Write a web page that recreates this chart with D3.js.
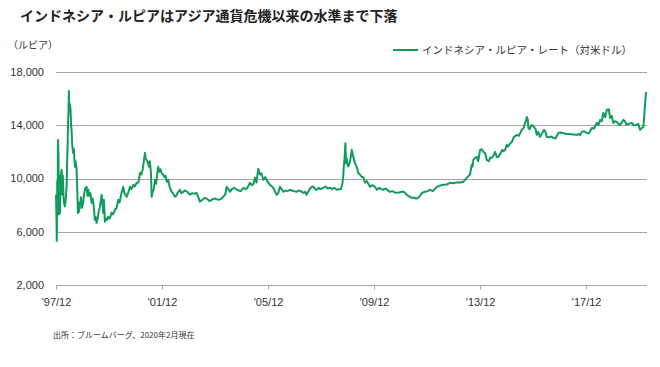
<!DOCTYPE html>
<html>
<head>
<meta charset="utf-8">
<script src="https://cdn.jsdelivr.net/npm/d3@7"></script>
<style>
  body { margin: 0; background: #fff; }
  #chart { width: 660px; height: 367px; }
  .jp { font-family: "Noto Sans CJK JP", "Noto Sans", sans-serif; fill: #222; }
  .num { font-family: "Liberation Sans", Arial, sans-serif; font-size: 11px; fill: #333; }
</style>
</head>
<body>
<div id="chart"></div>
<script>
// Title / labels
const titleText = "インドネシア・ルピアはアジア通貨危機以来の水準まで下落";
const unitText = "（ルピア）";
const legendText = "インドネシア・ルピア・レート（対米ドル）";
const sourceText = "出所：ブルームバーグ、2020年2月現在";

// Axis ticks
const yTicks = [2000, 6000, 10000, 14000, 18000];
const xTickDates = ["1997-12-01", "2001-12-01", "2005-12-01", "2009-12-01", "2013-12-01", "2017-12-01"];
const xTickLabels = ["'97/12", "'01/12", "'05/12", "'09/12", "'13/12", "'17/12"];
const xDomain = ["1997-12-01", "2020-03-19"];

// IDR per USD
const rupiah = [
  ["1997-12-01", 8800], ["1997-12-08", 6800], ["1997-12-12", 5300], ["1997-12-18", 9800],
  ["1997-12-24", 7600], ["1997-12-28", 12900], ["1998-01-04", 11800], ["1998-01-11", 7300],
  ["1998-01-18", 10200], ["1998-01-25", 7400], ["1998-02-02", 9800], ["1998-02-10", 10400],
  ["1998-02-18", 10650], ["1998-02-26", 8800], ["1998-03-05", 10200], ["1998-03-15", 8600],
  ["1998-03-25", 8100], ["1998-04-02", 7900], ["1998-04-12", 8300], ["1998-04-26", 9400],
  ["1998-05-05", 11500], ["1998-05-12", 12800], ["1998-05-17", 14400], ["1998-05-22", 14900],
  ["1998-05-27", 16575], ["1998-06-03", 15000], ["1998-06-10", 15600], ["1998-06-20", 15150],
  ["1998-06-27", 14000], ["1998-07-03", 13650], ["1998-07-12", 12600], ["1998-07-25", 11925],
  ["1998-08-05", 12200], ["1998-08-18", 10875], ["1998-08-28", 11300], ["1998-09-11", 10650],
  ["1998-09-22", 8800], ["1998-09-29", 7400], ["1998-10-08", 8200], ["1998-10-15", 7500],
  ["1998-10-26", 7900], ["1998-11-10", 8600], ["1998-11-25", 7800], ["1998-12-11", 8200],
  ["1998-12-25", 8900], ["1999-01-10", 9300], ["1999-01-27", 9375], ["1999-02-08", 8700],
  ["1999-02-19", 9150], ["1999-03-05", 8700], ["1999-03-20", 8900], ["1999-04-05", 8175],
  ["1999-04-20", 8500], ["1999-05-05", 7900], ["1999-05-20", 6900], ["1999-06-01", 7100],
  ["1999-06-13", 6675], ["1999-06-28", 7000], ["1999-07-12", 7500], ["1999-07-28", 7875],
  ["1999-08-10", 8300], ["1999-08-21", 8775], ["1999-09-01", 8200], ["1999-09-13", 7400],
  ["1999-09-22", 8400], ["1999-10-06", 6750], ["1999-10-20", 7000], ["1999-11-05", 6900],
  ["1999-11-21", 7125], ["1999-12-10", 7000], ["1999-12-25", 7200], ["2000-01-07", 7425],
  ["2000-01-25", 7300], ["2000-02-10", 7500], ["2000-02-22", 7650], ["2000-03-15", 7800],
  ["2000-04-07", 8400], ["2000-04-25", 8200], ["2000-05-10", 8600], ["2000-05-23", 8925],
  ["2000-06-15", 9375], ["2000-07-01", 8900], ["2000-08-01", 8625], ["2000-08-20", 8900],
  ["2000-09-16", 9375], ["2000-10-05", 9200], ["2000-11-01", 9525], ["2000-11-20", 9400],
  ["2000-12-17", 9675], ["2001-01-10", 9700], ["2001-02-01", 10425], ["2001-02-20", 10300],
  ["2001-03-10", 10700], ["2001-03-25", 11300], ["2001-04-10", 11925], ["2001-04-20", 11500],
  ["2001-05-03", 11400], ["2001-05-20", 11200], ["2001-06-04", 10875], ["2001-06-15", 11300],
  ["2001-07-01", 10500], ["2001-07-11", 8625], ["2001-07-25", 9000], ["2001-08-10", 9200],
  ["2001-08-26", 9900], ["2001-09-10", 9600], ["2001-09-25", 10300], ["2001-10-10", 10875],
  ["2001-10-25", 10500], ["2001-11-10", 10700], ["2001-11-26", 10400], ["2001-12-15", 10300],
  ["2002-01-05", 10100], ["2002-01-20", 10200], ["2002-02-04", 9750], ["2002-02-25", 9900],
  ["2002-03-15", 9400], ["2002-04-12", 9000], ["2002-05-01", 8900], ["2002-05-27", 8625],
  ["2002-06-15", 8700], ["2002-07-01", 8900], ["2002-08-05", 9150], ["2002-08-25", 8900],
  ["2002-09-20", 9000], ["2002-10-10", 9100], ["2002-11-15", 9000], ["2002-12-21", 8775],
  ["2003-01-20", 8900], ["2003-02-20", 8850], ["2003-03-22", 8925], ["2003-04-15", 8600],
  ["2003-05-07", 8250], ["2003-06-10", 8400], ["2003-07-15", 8550], ["2003-08-20", 8450],
  ["2003-09-15", 8300], ["2003-10-16", 8400], ["2003-11-20", 8500], ["2003-12-20", 8450],
  ["2004-01-16", 8400], ["2004-02-20", 8450], ["2004-03-24", 8625], ["2004-04-20", 8800],
  ["2004-05-10", 9375], ["2004-06-01", 9200], ["2004-06-25", 9000], ["2004-07-20", 9200],
  ["2004-08-20", 9300], ["2004-09-26", 9150], ["2004-10-25", 9100], ["2004-11-20", 9050],
  ["2004-12-26", 9300], ["2005-01-25", 9200], ["2005-02-20", 9300], ["2005-03-27", 9675],
  ["2005-04-20", 9500], ["2005-05-15", 9600], ["2005-06-04", 10050], ["2005-06-25", 9700],
  ["2005-07-19", 10725], ["2005-08-10", 10300], ["2005-08-30", 10400], ["2005-09-27", 9900],
  ["2005-10-25", 10100], ["2005-11-20", 9800], ["2005-12-28", 9525], ["2006-01-25", 9400],
  ["2006-02-20", 9200], ["2006-03-29", 8775], ["2006-04-20", 8900], ["2006-05-14", 9375],
  ["2006-06-05", 9200], ["2006-06-29", 9000], ["2006-07-25", 9100], ["2006-08-25", 9050],
  ["2006-09-30", 9150], ["2006-10-25", 9100], ["2006-11-25", 9050], ["2006-12-31", 9000],
  ["2007-01-25", 9100], ["2007-02-25", 9050], ["2007-04-01", 8925], ["2007-04-25", 9000],
  ["2007-05-17", 8775], ["2007-06-15", 9100], ["2007-07-05", 9250], ["2007-07-25", 9375],
  ["2007-08-20", 9400], ["2007-09-10", 9200], ["2007-10-02", 9150], ["2007-10-30", 9300],
  ["2007-11-25", 9200], ["2008-01-02", 9300], ["2008-02-01", 9400], ["2008-03-01", 9250],
  ["2008-04-03", 9300], ["2008-05-01", 9200], ["2008-06-01", 9300], ["2008-07-04", 9150],
  ["2008-08-10", 9200], ["2008-09-01", 9200], ["2008-09-20", 9600], ["2008-10-01", 10100],
  ["2008-10-10", 10900], ["2008-10-20", 11500], ["2008-11-01", 12650], ["2008-11-10", 11150],
  ["2008-11-20", 11500], ["2008-12-01", 11000], ["2008-12-12", 10900], ["2009-01-05", 11300],
  ["2009-01-28", 12150], ["2009-02-15", 11700], ["2009-03-13", 11150], ["2009-04-10", 10800],
  ["2009-04-28", 10400], ["2009-05-20", 10300], ["2009-06-14", 10125], ["2009-07-05", 10100],
  ["2009-07-29", 9675], ["2009-08-25", 9800], ["2009-10-06", 9375], ["2009-11-10", 9500],
  ["2009-12-10", 9400], ["2010-01-08", 9150], ["2010-02-10", 9300], ["2010-03-10", 9200],
  ["2010-04-07", 9150], ["2010-05-10", 9250], ["2010-06-10", 9100], ["2010-07-08", 9000],
  ["2010-08-10", 9050], ["2010-09-10", 8950], ["2010-10-09", 8925], ["2010-11-10", 8950],
  ["2010-12-17", 9000], ["2011-01-20", 9000], ["2011-02-25", 8775], ["2011-04-01", 8650],
  ["2011-05-03", 8550], ["2011-06-05", 8550], ["2011-07-11", 8500], ["2011-08-01", 8550],
  ["2011-09-01", 8750], ["2011-09-25", 8925], ["2011-11-03", 9000], ["2011-12-10", 9050],
  ["2012-01-12", 9150], ["2012-02-20", 9050], ["2012-04-13", 9375], ["2012-05-20", 9450],
  ["2012-07-12", 9525], ["2012-08-25", 9550], ["2012-10-13", 9675], ["2012-11-20", 9650],
  ["2013-01-14", 9700], ["2013-03-01", 9700], ["2013-04-14", 9750], ["2013-05-30", 10050],
  ["2013-07-15", 10300], ["2013-08-08", 11025], ["2013-08-20", 10900], ["2013-08-30", 11400],
  ["2013-09-23", 11550], ["2013-10-16", 11625], ["2013-11-05", 11300], ["2013-12-01", 12150],
  ["2013-12-20", 12200], ["2014-01-16", 12000], ["2014-02-10", 11900], ["2014-03-02", 11400],
  ["2014-04-01", 11300], ["2014-04-16", 11550], ["2014-05-10", 11550], ["2014-06-01", 11700],
  ["2014-06-25", 12000], ["2014-07-20", 11600], ["2014-08-10", 11625], ["2014-09-10", 11900],
  ["2014-10-01", 12150], ["2014-10-18", 12050], ["2014-11-10", 12150], ["2014-12-03", 12525],
  ["2014-12-20", 12400], ["2015-01-15", 12600], ["2015-02-12", 12750], ["2015-03-10", 13100],
  ["2015-04-20", 13275], ["2015-05-20", 13200], ["2015-06-28", 13650], ["2015-07-25", 13800],
  ["2015-08-12", 14175], ["2015-08-25", 14300], ["2015-09-05", 14625], ["2015-09-20", 14400],
  ["2015-09-27", 13800], ["2015-10-15", 13700], ["2015-11-13", 14025], ["2015-12-10", 13900],
  ["2016-01-05", 13700], ["2016-01-21", 13275], ["2016-02-10", 13500], ["2016-03-06", 13125],
  ["2016-03-25", 13300], ["2016-04-30", 13650], ["2016-05-20", 13500], ["2016-06-07", 13125],
  ["2016-07-10", 13100], ["2016-08-10", 13150], ["2016-09-06", 13050], ["2016-10-05", 13000],
  ["2016-11-14", 13425], ["2016-12-10", 13450], ["2017-01-23", 13425], ["2017-02-20", 13350],
  ["2017-03-20", 13350], ["2017-04-23", 13350], ["2017-05-20", 13300], ["2017-06-20", 13300],
  ["2017-07-25", 13275], ["2017-08-20", 13350], ["2017-09-10", 13250], ["2017-10-02", 13500],
  ["2017-11-01", 13550], ["2017-12-10", 13425], ["2018-01-10", 13400], ["2018-02-18", 13800],
  ["2018-03-20", 13750], ["2018-04-26", 14175], ["2018-05-20", 14000], ["2018-06-11", 14400],
  ["2018-07-05", 14300], ["2018-07-26", 14925], ["2018-08-20", 14600], ["2018-09-12", 15150],
  ["2018-10-10", 15200], ["2018-10-27", 14550], ["2018-11-20", 14700], ["2018-12-11", 14175],
  ["2019-01-05", 14300], ["2019-01-28", 14250], ["2019-02-20", 14100], ["2019-03-13", 14025],
  ["2019-04-05", 14200], ["2019-04-28", 14400], ["2019-05-20", 14300], ["2019-06-14", 14025],
  ["2019-07-10", 14100], ["2019-08-22", 14175], ["2019-09-20", 14000], ["2019-10-30", 14025],
  ["2019-11-20", 14100], ["2019-12-15", 13650], ["2020-01-10", 13800], ["2020-01-30", 13875],
  ["2020-02-18", 15375], ["2020-03-06", 16500]
];

const parse = d3.timeParse("%Y-%m-%d");
const data = rupiah.map(d => ({ date: parse(d[0]), value: d[1] }));

const lineColor = "#119b5c";

// Plot area
const margin = { top: 72, right: 13, bottom: 82, left: 56 };
const width = 660 - margin.left - margin.right;
const height = 367 - margin.top - margin.bottom;

const svg = d3.select("#chart")
    .append("svg")
    .attr("width", 660)
    .attr("height", 367);

// Title
svg.append("text")
    .attr("class", "jp")
    .attr("x", 20)
    .attr("y", 21)
    .style("font-size", "14px")
    .style("font-weight", "bold")
    .text(titleText);

// Unit label
svg.append("text")
    .attr("class", "jp")
    .attr("x", 8)
    .attr("y", 49)
    .style("font-size", "10px")
    .style("fill", "#333")
    .text(unitText);

// Legend
svg.append("line")
    .attr("x1", 393).attr("x2", 418)
    .attr("y1", 50).attr("y2", 50)
    .style("stroke", lineColor)
    .style("stroke-width", 2);

svg.append("text")
    .attr("class", "jp")
    .attr("x", 422)
    .attr("y", 54)
    .style("font-size", "10.5px")
    .style("fill", "#333")
    .text(legendText);

// Source
svg.append("text")
    .attr("class", "jp")
    .attr("x", 53)
    .attr("y", 338)
    .style("font-size", "8px")
    .style("fill", "#333")
    .text(sourceText);

const g = svg.append("g")
    .attr("transform", `translate(${margin.left},${margin.top})`);

// Scales
const x = d3.scaleTime()
    .domain(xDomain.map(parse))
    .range([0, width]);

const y = d3.scaleLinear()
    .domain([2000, 18000])
    .range([height, 0]);

// Gridlines (the 2,000 line doubles as the x axis)
g.selectAll(".grid")
    .data(yTicks)
    .enter()
    .append("line")
    .attr("class", "grid")
    .attr("x1", 0)
    .attr("x2", width)
    .attr("y1", d => Math.round(y(d)) + 0.5)
    .attr("y2", d => Math.round(y(d)) + 0.5)
    .style("stroke", "#a6a6a6")
    .style("stroke-width", 1);

// Y labels
g.selectAll(".ylab")
    .data(yTicks)
    .enter()
    .append("text")
    .attr("class", "num")
    .attr("x", -12)
    .attr("y", d => y(d))
    .attr("dy", "0.35em")
    .style("text-anchor", "end")
    .text(d => d3.format(",")(d));

// X axis ticks + labels
const xAxis = d3.axisBottom(x)
    .tickValues(xTickDates.map(parse))
    .tickSize(4)
    .tickFormat((d, i) => xTickLabels[i]);

const xg = g.append("g")
    .attr("transform", `translate(0,${Math.round(height) + 0.5})`)
    .call(xAxis);

xg.select(".domain").remove();
xg.selectAll(".tick line").style("stroke", "#a6a6a6");
xg.selectAll(".tick text")
    .attr("class", "num")
    .attr("y", 13)
    .style("font-size", "11px")
    .style("font-family", "'Liberation Sans', Arial, sans-serif")
    .style("fill", "#333");

// Rupiah line
const line = d3.line()
    .x(d => x(d.date))
    .y(d => y(d.value));

g.append("path")
    .datum(data)
    .attr("d", line)
    .style("fill", "none")
    .style("stroke", lineColor)
    .style("stroke-width", 2)
    .style("stroke-linejoin", "round");
</script>
</body>
</html>
